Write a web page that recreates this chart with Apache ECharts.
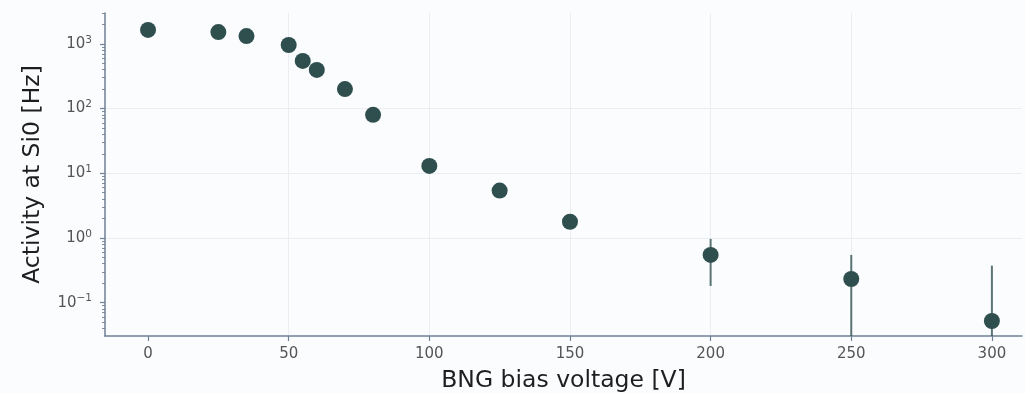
<!DOCTYPE html>
<html>
<head>
<meta charset="utf-8">
<script src="https://cdn.jsdelivr.net/npm/echarts@6/dist/echarts.min.js"></script>
<style>
  html, body { margin: 0; padding: 0; background: #fbfcfe; }
  #chart { width: 1025px; height: 393px; }
</style>
</head>
<body>
<div id="chart"></div>
<script>
// Measured activity at Si0 versus BNG bias voltage
const voltages = [0, 25, 35, 50, 55, 60, 70, 80, 100, 125, 150, 200, 250, 300];
const activity = [1640, 1520, 1320, 960, 545, 395, 200, 80, 13, 5.4, 1.78, 0.546, 0.232, 0.052];
const errLow   = [0, 0, 0, 0, 0, 0, 0, 0, 0, 0, 0, 0.365, 0.314, 0.321];
const errHigh  = [0, 0, 0, 0, 0, 0, 0, 0, 0, 0, 0, 0.42, 0.314, 0.321];

// Axis ticks
const xTicks = [0, 50, 100, 150, 200, 250, 300];
const yMajorTicks = [0.1, 1, 10, 100, 1000];
const yMinorTicks = [];
for (let e = -2; e <= 3; e++) {
  for (let k = 2; k <= 9; k++) {
    const v = k * Math.pow(10, e);
    if (v >= 0.0305 && v <= 3000) yMinorTicks.push(v);
  }
}

const X_MIN = -15.3, X_MAX = 310.7;
const Y_MIN = 0.0305, Y_MAX = 3000;

const markerColor = '#2f4f4f';
const axisColor = '#6e8194';
const font = 'DejaVu Sans';

const points = voltages.map((v, i) => [v, activity[i]]);
const bars = voltages
  .map((v, i) => [v, activity[i] - errLow[i], activity[i] + errHigh[i]])
  .filter((d, i) => errLow[i] > 0 || errHigh[i] > 0);

const chart = echarts.init(document.getElementById('chart'), null, { renderer: 'canvas' });

const yAxisCommon = {
  type: 'log',
  logBase: 10,
  min: Y_MIN,
  max: Y_MAX,
  gridIndex: 0,
  position: 'left'
};

chart.setOption({
  backgroundColor: '#fbfcfe',
  animation: false,
  grid: { left: 105, right: 3, top: 13, bottom: 57, containLabel: false, outerBoundsMode: 'none' },
  xAxis: {
    type: 'value',
    min: X_MIN,
    max: X_MAX,
    name: 'BNG bias voltage [V]',
    nameLocation: 'middle',
    nameGap: 33,
    nameTextStyle: { fontFamily: font, fontSize: 23.5, color: '#1e1e1e' },
    axisLine: { show: true, onZero: false, lineStyle: { color: axisColor, width: 1.5 } },
    axisTick: { show: true, length: 5, customValues: xTicks, lineStyle: { color: axisColor, width: 1.2 } },
    axisLabel: { customValues: xTicks, fontFamily: font, fontSize: 15, color: '#555', margin: 11 },
    splitLine: { show: true, showMinLine: false, showMaxLine: false, lineStyle: { color: '#ebedf0', width: 1 } }
  },
  yAxis: [
    Object.assign({}, yAxisCommon, {
      name: 'Activity at Si0 [Hz]',
      nameLocation: 'middle',
      nameGap: 60,
      nameTextStyle: { fontFamily: font, fontSize: 23.5, color: '#1e1e1e' },
      axisLine: { show: true, onZero: false, lineStyle: { color: axisColor, width: 1.5 } },
      axisTick: { show: true, length: 5, customValues: yMajorTicks, lineStyle: { color: axisColor, width: 1.2 } },
      axisLabel: {
        customValues: yMajorTicks,
        margin: 13,
        formatter: function (v) {
          return '{b|10}{s|' + Math.round(Math.log10(v)).toString().replace('-', '\u2212') + '}';
        },
        rich: {
          b: { fontFamily: font, fontSize: 15, color: '#555', lineHeight: 15, verticalAlign: 'bottom' },
          s: { fontFamily: font, fontSize: 10.5, color: '#555', lineHeight: 11, padding: [0, 0, 6, 0], verticalAlign: 'bottom' }
        }
      },
      splitLine: { show: true, showMinLine: false, showMaxLine: false, lineStyle: { color: '#ebedf0', width: 1 } }
    }),
    Object.assign({}, yAxisCommon, {
      axisLine: { show: false, onZero: false },
      axisTick: { show: true, length: 3, customValues: yMinorTicks, lineStyle: { color: axisColor, width: 0.9 } },
      axisLabel: { show: false },
      splitLine: { show: false }
    })
  ],
  series: [
    {
      type: 'custom',
      yAxisIndex: 0,
      data: bars,
      z: 2,
      clip: true,
      renderItem: function (params, api) {
        const x = api.value(0);
        const lo = api.value(1);
        const hi = api.value(2);
        const top = api.coord([x, hi]);
        const bottom = lo > Y_MIN ? api.coord([x, lo]) : [top[0], params.coordSys.y + params.coordSys.height];
        return {
          type: 'line',
          shape: { x1: top[0], y1: top[1], x2: bottom[0], y2: bottom[1] },
          style: { stroke: 'rgba(47,79,79,0.78)', lineWidth: 2 }
        };
      }
    },
    {
      type: 'scatter',
      yAxisIndex: 0,
      data: points,
      symbol: 'circle',
      symbolSize: 16,
      z: 3,
      itemStyle: { color: markerColor, opacity: 1 }
    }
  ]
});
</script>
</body>
</html>
